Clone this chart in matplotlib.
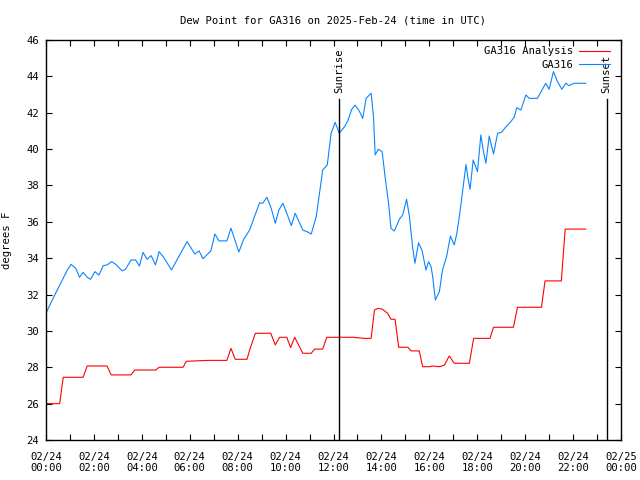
import matplotlib
matplotlib.use('Agg')
import matplotlib.pyplot as plt
import matplotlib.dates as mdates
import pandas as pd
from matplotlib.ticker import MultipleLocator

# hours after 2025-02-24 00:00 UTC
obs_hours = [0.0, 0.26, 0.47, 0.68, 0.89, 1.05, 1.24, 1.40, 1.55, 1.72, 1.86, 2.04, 2.21, 2.39,
             2.55, 2.74, 2.90, 3.18, 3.32, 3.55, 3.74, 3.90, 4.05, 4.22, 4.39, 4.57, 4.72, 4.89,
             5.24, 5.58, 5.89, 6.21, 6.39, 6.55, 6.88, 7.05, 7.22, 7.55, 7.72, 8.05, 8.25, 8.5,
             8.75, 8.92, 9.05, 9.22, 9.40, 9.57, 9.72, 9.89, 10.05, 10.24, 10.40, 10.72, 10.89,
             11.07, 11.28, 11.55, 11.74, 11.90, 12.07, 12.24, 12.46, 12.60, 12.76, 12.90, 13.07,
             13.22, 13.36, 13.57, 13.67, 13.74, 13.87, 14.03, 14.17, 14.30, 14.40, 14.54, 14.75,
             14.89, 15.05, 15.17, 15.30, 15.40, 15.55, 15.70, 15.86, 15.97, 16.07, 16.14, 16.25,
             16.42, 16.55, 16.72, 16.88, 17.04, 17.15, 17.28, 17.42, 17.53, 17.62, 17.70, 17.83,
             18.01, 18.15, 18.26, 18.36, 18.50, 18.68, 18.85, 19.01, 19.20, 19.40, 19.54, 19.65,
             19.82, 20.03, 20.17, 20.51, 20.72, 20.86, 21.0, 21.18, 21.35, 21.53, 21.70, 21.83,
             22.04, 22.53]
obs_dewpt = [30.97, 31.7, 32.25, 32.8, 33.35, 33.66, 33.44, 32.95, 33.22, 32.95, 32.84, 33.26,
             33.07, 33.59, 33.63, 33.81, 33.68, 33.3, 33.39, 33.9, 33.9, 33.57, 34.32, 33.94,
             34.14, 33.63, 34.36, 34.09, 33.35, 34.18, 34.91, 34.23, 34.4, 33.97, 34.4, 35.33,
             34.95, 34.95, 35.65, 34.34, 35.04, 35.55, 36.46, 37.05, 37.02, 37.35, 36.74, 35.92,
             36.65, 37.02, 36.47, 35.79, 36.47, 35.55, 35.46, 35.33, 36.29, 38.85, 39.13, 40.87,
             41.47, 40.87, 41.23, 41.56, 42.19, 42.42, 42.11, 41.69, 42.79, 43.07, 41.78, 39.68,
             39.99, 39.86, 38.3, 37.0, 35.64, 35.5, 36.14, 36.38, 37.24, 36.29, 34.63, 33.72,
             34.85, 34.4, 33.35, 33.81, 33.54, 32.99, 31.7, 32.16, 33.35, 34.09, 35.22, 34.73,
             35.37, 36.56, 38.02, 39.15, 38.34, 37.79, 39.4, 38.76, 40.78, 39.86, 39.22, 40.72,
             39.73, 40.87, 40.92, 41.23, 41.51, 41.75, 42.28, 42.15, 42.98, 42.79, 42.79, 43.29,
             43.62, 43.29, 44.26, 43.71, 43.29, 43.62, 43.49, 43.62, 43.62]

ana_hours = [0.0, 0.57, 0.72, 1.55, 1.72, 2.55, 2.72, 3.55, 3.70, 4.58, 4.72, 5.72, 5.86, 6.80,
             7.55, 7.72, 7.90, 8.39, 8.5, 8.74, 9.38, 9.57, 9.75, 10.05, 10.21, 10.38, 10.72,
             11.07, 11.21, 11.55, 11.72, 12.80, 13.29, 13.57, 13.71, 13.85, 14.03, 14.26, 14.40,
             14.57, 14.72, 15.10, 15.24, 15.58, 15.72, 16.0, 16.14, 16.42, 16.63, 16.83, 17.04,
             17.67, 17.85, 18.53, 18.68, 19.51, 19.68, 20.68, 20.83, 21.51, 21.67, 22.53]
ana_dewpt = [26.0, 26.0, 27.45, 27.45, 28.07, 28.07, 27.58, 27.58, 27.85, 27.85, 28.0, 28.0,
             28.33, 28.38, 28.38, 29.04, 28.44, 28.44, 28.95, 29.87, 29.87, 29.23, 29.65, 29.65,
             29.08, 29.65, 28.77, 28.77, 29.0, 29.0, 29.65, 29.65, 29.59, 29.59, 31.15, 31.24,
             31.2, 30.97, 30.64, 30.64, 29.1, 29.1, 28.9, 28.9, 28.03, 28.03, 28.07, 28.03, 28.12,
             28.62, 28.22, 28.22, 29.59, 29.59, 30.2, 30.2, 31.3, 31.3, 32.75, 32.75, 35.6, 35.6]

sun_events = ['Sunrise', 'Sunset']
sun_hours = [12.22, 23.40]

base = pd.Timestamp('2025-02-24 00:00')
def to_time(hours):
    return base + pd.to_timedelta(hours, unit='h')

mono = 'DejaVu Sans Mono'
fs = 7.6
fig = plt.figure(figsize=(6.4, 4.8), dpi=100, facecolor='white')
ax = fig.add_axes([46/640, 40/480, 575/640, 400/480])

ax.plot(to_time(ana_hours), ana_dewpt, color='#ff0000', lw=0.8, label='GA316 Analysis')
ax.plot(to_time(obs_hours), obs_dewpt, color='#0a84ff', lw=0.8, label='GA316')

for name, h in zip(sun_events, sun_hours):
    t = to_time(h)
    ax.axvline(t, ymin=0, ymax=0.853, color='black', lw=1.0)
    ax.text(t, 43.1, name, rotation=90, ha='center', va='bottom',
            fontsize=fs, family=mono)

ax.set_xlim(base, base + pd.Timedelta(hours=24))
ax.set_ylim(24, 46)
ax.yaxis.set_major_locator(MultipleLocator(2))
ax.xaxis.set_major_locator(mdates.HourLocator(byhour=range(0, 24, 2)))
ax.xaxis.set_minor_locator(mdates.HourLocator())
ax.xaxis.set_major_formatter(mdates.DateFormatter('%m/%d\n%H:%M'))
ax.tick_params(which='both', direction='in', top=True, right=True, length=4.5, width=0.8,
               labelsize=fs)
ax.tick_params(axis='x', pad=8.5)
ax.tick_params(axis='y', pad=5)
for lab in ax.get_xticklabels() + ax.get_yticklabels():
    lab.set_family(mono)
for sp in ax.spines.values():
    sp.set_linewidth(1.0)

ax.set_title('Dew Point for GA316 on 2025-Feb-24 (time in UTC)', fontsize=fs, family=mono, pad=12)
ax.set_ylabel('degrees F', fontsize=fs, family=mono, labelpad=10)

leg = ax.legend(loc='upper right', bbox_to_anchor=((610 - 46) / 575, 0.984), frameon=False,
                markerfirst=False, borderaxespad=0, borderpad=0,
                handlelength=2.9, handletextpad=0.55, labelspacing=0.3,
                prop={'family': mono, 'size': fs})

fig.savefig('out.png', dpi=100, facecolor=fig.get_facecolor())
